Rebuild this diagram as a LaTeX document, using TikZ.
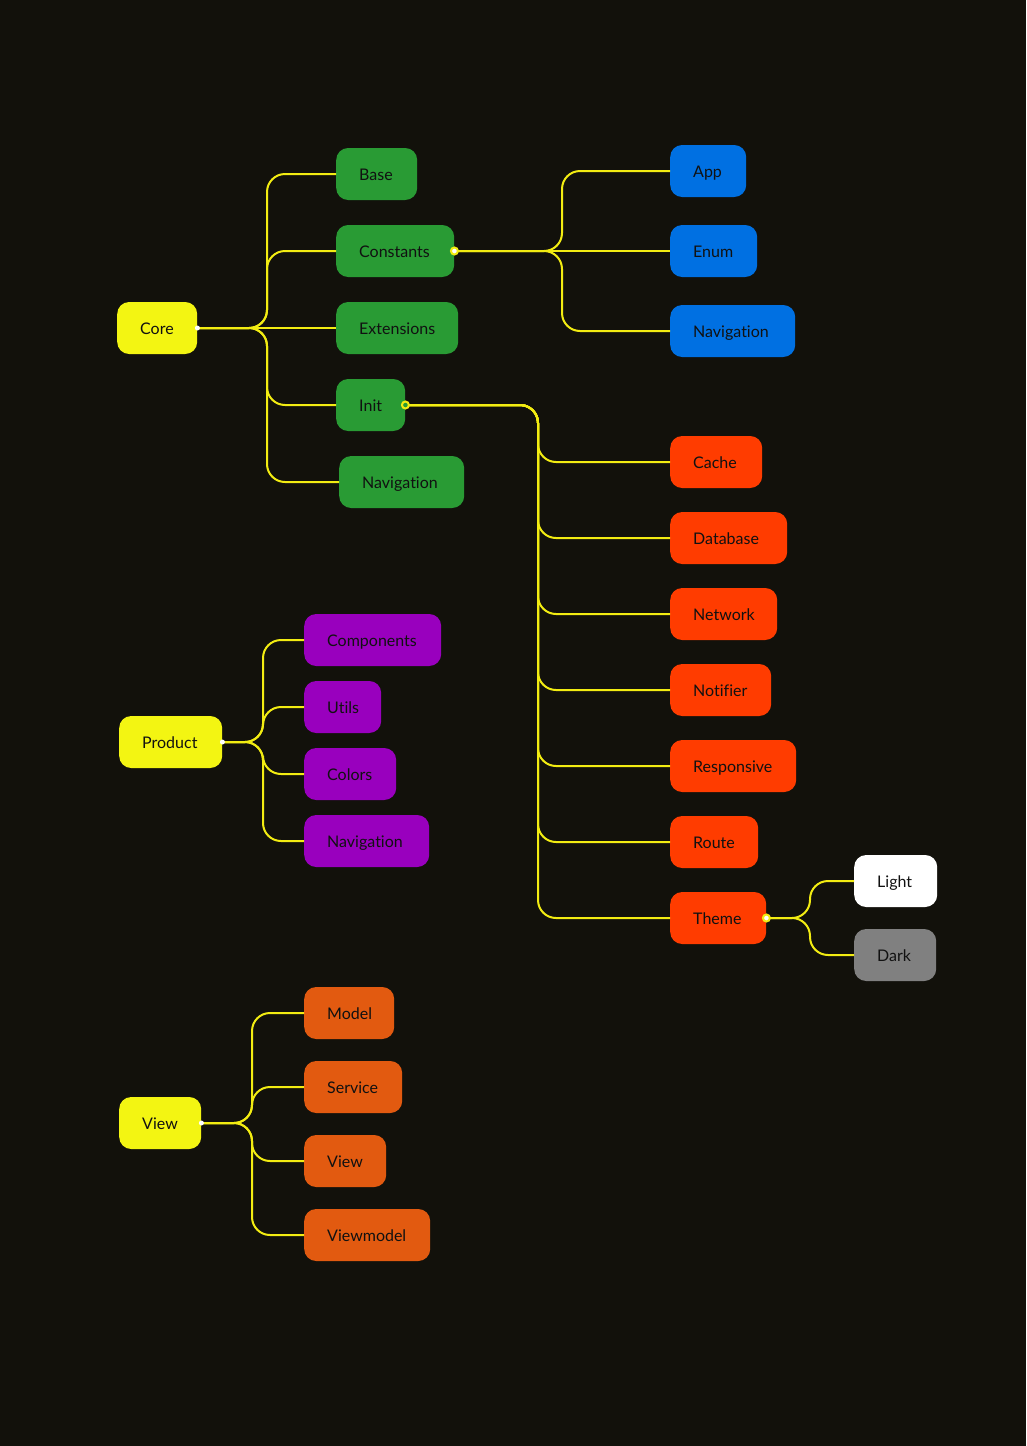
\documentclass[tikz,border=0pt]{standalone}
\usepackage{fontspec}
\setmainfont{Lato}[Ligatures={NoCommon,NoRequired,NoContextual}]
\definecolor{bg}{RGB}{18,17,11}
\definecolor{ln}{RGB}{242,236,18}
\definecolor{rootc}{RGB}{243,245,18}
\definecolor{greenc}{RGB}{41,155,52}
\definecolor{bluec}{RGB}{0,112,226}
\definecolor{redc}{RGB}{255,60,0}
\definecolor{purc}{RGB}{153,0,190}
\definecolor{orc}{RGB}{226,90,16}
\definecolor{grayc}{RGB}{128,128,128}
\definecolor{txt}{RGB}{17,17,17}
\begin{document}
\begin{tikzpicture}[x=1pt,y=-1pt,
  box/.style={anchor=west,rounded corners=12pt,minimum height=52pt,inner ysep=0pt,inner xsep=23pt,
    align=left,text=txt,text height=13.5pt,text depth=0pt,font=\fontsize{16pt}{18pt}\selectfont},
  conn/.style={draw=ln,line width=2pt,rounded corners=18pt},
  rootdot/.style={fill=white,circle,inner sep=0pt,minimum size=5pt},
  portdot/.style={fill=white,draw=ln,line width=2pt,circle,inner sep=0pt,minimum size=7pt}]
\fill[bg] (0,0) rectangle (1026,1446);
\useasboundingbox (0,0) rectangle (1026,1446);
% junction coordinates
\coordinate (jcore) at (267,328);
\coordinate (jcons) at (562,251);
\coordinate (jinit) at (538,405);
\coordinate (jtheme) at (810,918);
\coordinate (jprod) at (263,742);
\coordinate (jview) at (252,1123);
% nodes
\node[box,fill=rootc,text width=34pt] (core) at (117,328) {Core};
\node[box,fill=greenc,text width=35pt] (base) at (336,174) {Base};
\node[box,fill=greenc,text width=72pt] (cons) at (336,251) {Constants};
\node[box,fill=greenc,text width=76pt] (ext) at (336,328) {Extensions};
\node[box,fill=greenc,text width=23pt] (init) at (336,405) {Init};
\node[box,fill=greenc,text width=79pt] (navg) at (339,482) {Navigation};
\node[box,fill=bluec,text width=30pt] (app) at (670,171) {App};
\node[box,fill=bluec,text width=41pt] (enum) at (670,251) {Enum};
\node[box,fill=bluec,text width=79pt] (navb) at (670,331) {Navigation};
\node[box,fill=redc,text width=46pt] (cache) at (670,462) {Cache};
\node[box,fill=redc,text width=71pt] (db) at (670,538) {Database};
\node[box,fill=redc,text width=61pt] (net) at (670,614) {Network};
\node[box,fill=redc,text width=55pt] (noti) at (670,690) {Notifier};
\node[box,fill=redc,text width=80pt] (resp) at (670,766) {Responsive};
\node[box,fill=redc,text width=42pt] (route) at (670,842) {Route};
\node[box,fill=redc,text width=50pt] (theme) at (670,918) {Theme};
\node[box,fill=white,text width=37pt] (light) at (854,881) {Light};
\node[box,fill=grayc,text width=36pt] (dark) at (854,955) {Dark};
\node[box,fill=rootc,text width=57pt] (prod) at (119,742) {Product};
\node[box,fill=purc,text width=91pt] (comp) at (304,640) {Components};
\node[box,fill=purc,text width=31pt] (utils) at (304,707) {Utils};
\node[box,fill=purc,text width=46pt] (colors) at (304,774) {Colors};
\node[box,fill=purc,text width=79pt] (navp) at (304,841) {Navigation};
\node[box,fill=rootc,text width=36pt] (view) at (119,1123) {View};
\node[box,fill=orc,text width=44pt] (model) at (304,1013) {Model};
\node[box,fill=orc,text width=52pt] (serv) at (304,1087) {Service};
\node[box,fill=orc,text width=36pt] (viewc) at (304,1161) {View};
\node[box,fill=orc,text width=80pt] (vm) at (304,1235) {Viewmodel};
% connectors
\draw[conn] (core.east) -- (jcore) |- (base.west);
\draw[conn] (core.east) -- (jcore) |- (cons.west);
\draw[conn] (core.east) -- (ext.west);
\draw[conn] (core.east) -- (jcore) |- (init.west);
\draw[conn] (core.east) -- (jcore) |- (navg.west);
\draw[conn] (cons.east) -- (jcons) |- (app.west);
\draw[conn] (cons.east) -- (enum.west);
\draw[conn] (cons.east) -- (jcons) |- (navb.west);
\foreach \c in {cache,db,net,noti,resp,route,theme}
  \draw[conn] (init.east) -- (jinit) |- (\c.west);
\draw[conn] (theme.east) -- (jtheme) |- (light.west);
\draw[conn] (theme.east) -- (jtheme) |- (dark.west);
\foreach \c in {comp,utils,colors,navp}
  \draw[conn] (prod.east) -- (jprod) |- (\c.west);
\foreach \c in {model,serv,viewc,vm}
  \draw[conn] (view.east) -- (jview) |- (\c.west);
% dots
\node[rootdot] (dcore) at (core.east) {};
\node[rootdot] (dprod) at (prod.east) {};
\node[rootdot] (dview) at (view.east) {};
\node[portdot] (dcons) at (cons.east) {};
\node[portdot,fill=greenc] (dinit) at (init.east) {};
\node[portdot] (dtheme) at (theme.east) {};
\end{tikzpicture}
\end{document}
